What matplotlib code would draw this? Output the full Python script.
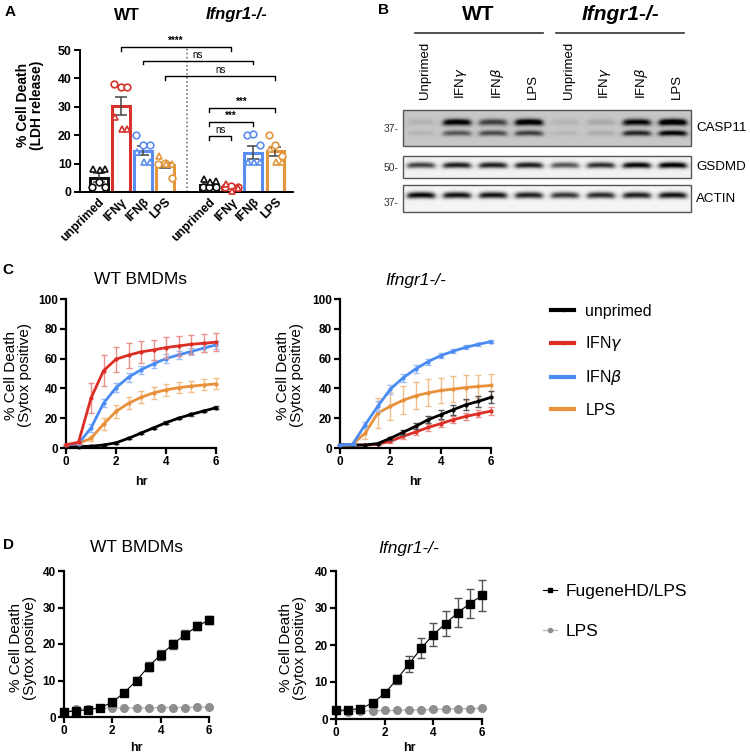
#!/usr/bin/env python3
"""Multi-panel cell death figure: LDH release, western blot, Sytox kinetics"""

import numpy as np
import matplotlib
matplotlib.use('Agg')
import matplotlib.pyplot as plt
from matplotlib.lines import Line2D
from matplotlib.patches import Rectangle

plt.rcParams['font.family'] = ['Liberation Sans', 'DejaVu Sans']
plt.rcParams['mathtext.fontset'] = 'dejavusans'

W, H = 750, 755

# ---- panel A: LDH release ----
a_groups = ['unprimed', 'IFNγ', 'IFNβ', 'LPS']
a_wt_mean = [5.0, 30.2, 14.6, 9.4]
a_wt_sem = [1.6, 3.1, 1.7, 0.9]
a_ko_mean = [2.3, 1.8, 13.9, 14.3]
a_ko_sem = [0.7, 0.4, 2.4, 1.6]
a_wt_circles = [[1.6, 3.4, 1.6], [38.2, 37.0, 37.0], [19.9, 16.5, 16.5], [10.0, 10.2, 4.9]]
a_wt_triangles = [[8.2, 7.6, 8.2], [26.5, 22.2, 22.2], [14.0, 10.7, 10.7], [12.6, 9.8, 9.8]]
a_ko_circles = [[1.6, 1.6, 1.6], [1.8, 2.0, 1.8], [20.0, 20.3, 16.5], [20.2, 16.5, 12.6]]
a_ko_triangles = [[4.7, 3.4, 3.8], [2.8, 0.5, 1.5], [10.7, 10.7, 10.7], [15.0, 10.7, 10.7]]
a_brackets = [(1, 6, 51.0, '****'), (2, 7, 46.3, 'ns'), (3, 8, 40.8, 'ns'),
              (5, 8, 29.6, '***'), (5, 7, 24.6, '***'), (5, 6, 19.6, 'ns')]

# ---- panel B: western blot band intensities (darkness 0-1) ----
b_lanes = ['Unprimed', 'IFN$\\gamma$', 'IFN$\\beta$', 'LPS'] * 2
b_casp11_upper = [0.08, 0.85, 0.55, 0.9, 0.07, 0.12, 0.8, 0.95]
b_casp11_lower = [0.07, 0.45, 0.5, 0.55, 0.06, 0.1, 0.65, 0.8]
b_gsdmd = [0.7, 0.85, 0.85, 0.85, 0.62, 0.78, 0.95, 1.0]
b_actin = [0.95, 0.9, 0.9, 0.85, 0.75, 0.8, 0.85, 0.9]

# ---- panel C: Sytox kinetics, priming ----
hours = [0, 0.5, 1, 1.5, 2, 2.5, 3, 3.5, 4, 4.5, 5, 5.5, 6]
c_labels = ['unprimed', 'IFN$\\gamma$', 'IFN$\\beta$', 'LPS']
c_wt_unprimed = [1.0, 1.0, 1.2, 2.0, 3.5, 6.5, 10.0, 13.5, 17.0, 20.0, 22.5, 24.8, 27.0]
c_wt_ifng = [2.2, 3.8, 33.5, 51.8, 59.6, 62.3, 64.5, 65.8, 67.4, 68.5, 69.6, 70.3, 71.0]
c_wt_ifnb = [2.0, 2.9, 13.5, 30.0, 40.5, 47.5, 52.5, 56.5, 60.0, 62.5, 64.7, 67.0, 69.2]
c_wt_lps = [2.0, 3.0, 6.5, 16.0, 24.5, 30.0, 34.0, 37.0, 39.0, 40.5, 41.5, 42.3, 43.0]
c_wt_unprimed_sem = [0.3, 0.3, 0.3, 0.4, 0.5, 0.6, 0.7, 0.7, 0.8, 0.8, 0.8, 0.8, 0.9]
c_wt_ifng_sem = [0.5, 1.0, 10.0, 10.5, 8.5, 8.3, 7.3, 7.0, 7.0, 6.7, 6.5, 6.2, 6.1]
c_wt_ifnb_sem = [0.3, 0.5, 2.5, 2.8, 3.0, 3.0, 2.8, 2.8, 2.8, 2.7, 2.6, 2.5, 2.5]
c_wt_lps_sem = [0.3, 0.5, 1.5, 4.0, 4.2, 4.0, 4.0, 3.8, 3.8, 3.8, 3.7, 3.7, 3.7]

c_ko_unprimed = [2.0, 2.0, 2.0, 3.0, 6.5, 10.5, 14.5, 19.0, 22.3, 25.7, 29.0, 31.3, 34.0]
c_ko_ifng = [2.0, 2.0, 2.0, 2.5, 4.5, 7.8, 10.7, 13.8, 16.3, 19.0, 21.2, 23.0, 24.8]
c_ko_ifnb = [2.0, 2.5, 15.6, 28.0, 39.5, 47.0, 53.0, 58.0, 62.0, 65.0, 67.6, 69.6, 71.4]
c_ko_lps = [2.0, 2.5, 10.0, 23.4, 28.0, 32.0, 35.0, 37.0, 38.6, 39.5, 40.6, 41.3, 42.0]
c_ko_unprimed_sem = [0.3, 0.3, 0.3, 0.5, 1.0, 1.5, 2.0, 2.5, 3.0, 3.3, 3.6, 3.8, 4.0]
c_ko_ifng_sem = [0.3, 0.3, 0.3, 0.5, 1.0, 1.5, 2.0, 2.2, 2.3, 2.4, 2.5, 2.5, 2.5]
c_ko_ifnb_sem = [0.3, 0.4, 2.0, 3.5, 3.0, 3.0, 2.5, 2.0, 1.8, 1.5, 1.3, 1.0, 0.8]
c_ko_lps_sem = [0.3, 0.4, 4.0, 10.0, 9.5, 9.5, 9.0, 9.0, 8.5, 8.5, 8.5, 8.0, 8.0]

# ---- panel D: Sytox kinetics, transfected LPS ----
d_labels = ['FugeneHD/LPS', 'LPS']
d_wt_fugene = [1.3, 1.7, 2.0, 2.5, 4.1, 6.7, 10.0, 13.8, 17.0, 19.9, 22.5, 24.8, 26.6]
d_wt_fugene_sem = [0.3, 0.3, 0.3, 0.3, 0.4, 0.6, 0.9, 1.2, 1.3, 1.3, 1.2, 1.1, 1.1]
d_wt_lps = [1.5, 2.1, 2.3, 2.4, 2.5, 2.5, 2.5, 2.5, 2.6, 2.6, 2.6, 2.7, 2.7]
d_ko_fugene = [2.3, 2.5, 2.8, 4.3, 6.9, 10.7, 14.9, 19.1, 22.8, 25.8, 28.7, 31.2, 33.4]
d_ko_fugene_sem = [0.3, 0.3, 0.3, 0.4, 0.6, 1.3, 2.1, 2.7, 3.2, 3.5, 3.9, 4.0, 4.3]
d_ko_lps = [2.1, 2.0, 2.2, 2.2, 2.3, 2.3, 2.4, 2.5, 2.6, 2.7, 2.8, 2.8, 2.9]

A_COLORS = ['#111111', '#d7322b', '#5b8def', '#e3963b']
C_COLORS = ['#000000', '#dc2e25', '#4a8cf2', '#e8913a']
C_ECOLORS = ['#555555', '#ec8f8a', '#9dbdf7', '#f2bf8a']
GRAY = '#8e8e8e'


def px_axes(fig, x0, y0, x1, y1):
    return fig.add_axes([x0 / W, 1 - y1 / H, (x1 - x0) / W, (y1 - y0) / H])


def px_text(fig, x, y, s, **kw):
    kw.setdefault('ha', 'center')
    kw.setdefault('va', 'center')
    return fig.text(x / W, 1 - y / H, s, **kw)


def style_axes(ax, lw=1.6, size=8.5):
    for side in ('top', 'right'):
        ax.spines[side].set_visible(False)
    for side in ('left', 'bottom'):
        ax.spines[side].set_linewidth(lw)
    ax.tick_params(width=lw, length=4, labelsize=size, pad=2)
    for lab in ax.get_xticklabels() + ax.get_yticklabels():
        lab.set_fontweight('bold')


def blot_image(x0, x1, y0, y1, bg, bands, lane_x):
    xs = np.linspace(x0, x1, (x1 - x0) * 3)
    ys = np.linspace(y0, y1, (y1 - y0) * 3)
    X, Y = np.meshgrid(xs, ys)
    dark = np.full(X.shape, bg)
    for yc, thick, levels in bands:
        for xc, lvl in zip(lane_x, levels):
            prof_x = 1 / (1 + np.exp((np.abs(X - xc) - 13.5) / 1.6))
            prof_y = np.exp(-((Y - yc - 0.6 * ((X - xc) / 13) ** 2) / thick) ** 2)
            dark = dark + lvl * prof_x * prof_y
    return 1 - np.clip(dark, 0, 1)


fig = plt.figure(figsize=(W / 100, H / 100), dpi=100)

# ================= A =================
ax = px_axes(fig, 80, 50, 293, 192)
ax.set_xlim(-0.85, 8.8)
ax.set_ylim(0, 50)
offs_c = [-0.3, 0.0, 0.3]
offs_t = [-0.25, 0.05, 0.3]
for block, start in ((0, 0), (1, 5)):
    means = a_wt_mean if block == 0 else a_ko_mean
    sems = a_wt_sem if block == 0 else a_ko_sem
    circs = a_wt_circles if block == 0 else a_ko_circles
    tris = a_wt_triangles if block == 0 else a_ko_triangles
    for i in range(4):
        xpos = start + i
        ax.bar(xpos, means[i], width=0.8, facecolor='white', edgecolor=A_COLORS[i],
               linewidth=2.2, zorder=1)
        ax.errorbar(xpos, means[i], yerr=sems[i], color='#444444', capsize=4.5,
                    elinewidth=1.1, capthick=1.1, zorder=3)
        ax.plot([xpos + o for o in offs_c], circs[i], 'o', ms=4.8, mfc='white',
                mec=A_COLORS[i], mew=1.2, zorder=4, clip_on=False)
        ax.plot([xpos + o for o in offs_t], tris[i], '^', ms=4.8, mfc='white',
                mec=A_COLORS[i], mew=1.2, zorder=4, clip_on=False)
ax.plot([4, 4], [0, 51], ls=':', color='#666666', lw=1.1, clip_on=False)
for x1, x2, y, lab in a_brackets:
    ax.plot([x1, x1, x2, x2], [y - 1.3, y, y, y - 1.3], color='black', lw=1,
            clip_on=False)
    ax.text((x1 + x2) / 2, y + 0.3, lab, ha='center', va='bottom', fontsize=7,
            fontweight='bold' if '*' in lab else 'normal')
ax.set_yticks([0, 10, 20, 30, 40, 50])
ax.set_xticks([0, 1, 2, 3, 5, 6, 7, 8])
ax.set_xticklabels(a_groups * 2, rotation=45, ha='right', rotation_mode='anchor')
style_axes(ax, lw=1.4, size=8.8)
ax.tick_params(axis='x', length=0, pad=3)
px_text(fig, 30, 105, '% Cell Death\n(LDH release)', rotation=90, fontsize=10,
        fontweight='bold', linespacing=1.0)
px_text(fig, 127, 15, 'WT', fontsize=12, fontweight='bold')
px_text(fig, 237, 15, 'Ifngr1-/-', fontsize=12, fontweight='bold', style='italic')
px_text(fig, 10, 12, 'A', fontsize=11, fontweight='bold')

# ================= B =================
axb = px_axes(fig, 380, 0, 750, 290)
axb.set_xlim(380, 750)
axb.set_ylim(290, 0)
axb.axis('off')
lane_x = [421 + 36 * i for i in range(8)]
blots = [
    (110, 146, 0.22, [(122, 3.3, b_casp11_upper), (133, 2.8, b_casp11_lower)], 'CASP11', '37-', 129),
    (156, 178, 0.05, [(165, 3.0, b_gsdmd)], 'GSDMD', '50-', 168),
    (185, 212, 0.04, [(195, 3.2, b_actin)], 'ACTIN', '37-', 203),
]
for y0, y1, bg, bands, name, mw, mw_y in blots:
    img = blot_image(403, 691, y0, y1, bg, bands, lane_x)
    axb.imshow(img, cmap='gray', vmin=0, vmax=1, extent=(403, 691, y1, y0),
               aspect='auto', interpolation='bilinear')
    axb.add_patch(Rectangle((403, y0), 288, y1 - y0, fill=False, ec='#555555', lw=1))
    axb.text(696, (y0 + y1) / 2, name, ha='left', va='center', fontsize=9.6)
    axb.text(399, mw_y, mw, ha='right', va='center', fontsize=7.5, color='#333333')
for xc, lab in zip(lane_x, b_lanes):
    axb.text(xc + 4, 99, lab, rotation=90, ha='center', va='bottom', fontsize=9.5)
axb.plot([415, 543], [33, 33], color='#333333', lw=1.2)
axb.plot([556, 684], [33, 33], color='#333333', lw=1.2)
px_text(fig, 478, 15, 'WT', fontsize=15, fontweight='bold')
px_text(fig, 620, 15, 'Ifngr1-/-', fontsize=15, fontweight='bold', style='italic')
px_text(fig, 383, 10, 'B', fontsize=11, fontweight='bold')

# ================= C =================
c_sets = [
    ((66, 299, 216, 448), 'WT BMDMs', 'normal',
     [c_wt_unprimed, c_wt_ifng, c_wt_ifnb, c_wt_lps],
     [c_wt_unprimed_sem, c_wt_ifng_sem, c_wt_ifnb_sem, c_wt_lps_sem], [1, 4, 3, 2], 18),
    ((340, 299, 491, 448), 'Ifngr1-/-', 'italic',
     [c_ko_unprimed, c_ko_ifng, c_ko_ifnb, c_ko_lps],
     [c_ko_unprimed_sem, c_ko_ifng_sem, c_ko_ifnb_sem, c_ko_lps_sem], [3, 2, 4, 1], 290),
]
for box, title, tstyle, series, sems, zords, ylx in c_sets:
    ax = px_axes(fig, *box)
    for vals, err, col, ecol, z in zip(series, sems, C_COLORS, C_ECOLORS, zords):
        ax.errorbar(hours, vals, yerr=err, color=col, lw=2, marker='o', ms=2,
                    ecolor=ecol, elinewidth=1, capsize=2.5, capthick=1,
                    zorder=z, clip_on=False)
    ax.set_xlim(0, 6)
    ax.set_ylim(0, 100)
    ax.set_xticks([0, 2, 4, 6])
    ax.set_yticks([0, 20, 40, 60, 80, 100])
    style_axes(ax)
    cx = (box[0] + box[2]) / 2
    px_text(fig, cx, 280, title, fontsize=12.5, style=tstyle)
    px_text(fig, cx, 482, 'hr', fontsize=9, fontweight='bold')
    px_text(fig, ylx, 375, '% Cell Death\n(Sytox positive)', rotation=90,
            fontsize=11, linespacing=1.0)
px_text(fig, 8, 270, 'C', fontsize=11, fontweight='bold')
c_handles = [Line2D([], [], color=c, lw=3, marker='o', ms=1.5) for c in C_COLORS]
fig.legend(c_handles, c_labels, loc='upper left', bbox_to_anchor=(551 / W, 1 - 304 / H),
           frameon=False, fontsize=11.5, handlelength=1.45, handletextpad=0.7,
           labelspacing=0.95, borderpad=0, borderaxespad=0)

# ================= D =================
d_sets = [
    ((64, 571, 209, 717), 'WT BMDMs', 'normal', d_wt_fugene, d_wt_fugene_sem, d_wt_lps, 23),
    ((336, 571, 482, 719), 'Ifngr1-/-', 'italic', d_ko_fugene, d_ko_fugene_sem, d_ko_lps, 293),
]
for box, title, tstyle, fug, fug_err, lps, ylx in d_sets:
    ax = px_axes(fig, *box)
    ax.plot(hours, lps, color='#bdbdbd', lw=1, marker='o', ms=5.5, mfc=GRAY,
            mec=GRAY, zorder=2, clip_on=False)
    ax.errorbar(hours, fug, yerr=fug_err, color='black', lw=0.8, marker='s', ms=5.5,
                ecolor='#555555', elinewidth=1, capsize=3, capthick=1, zorder=3,
                clip_on=False)
    ax.set_xlim(0, 6)
    ax.set_ylim(0, 40)
    ax.set_xticks([0, 2, 4, 6])
    ax.set_yticks([0, 10, 20, 30, 40])
    style_axes(ax)
    cx = (box[0] + box[2]) / 2
    px_text(fig, cx, 548, title, fontsize=12.5, style=tstyle)
    px_text(fig, cx, 748, 'hr', fontsize=9, fontweight='bold')
    px_text(fig, ylx, 648, '% Cell Death\n(Sytox positive)', rotation=90,
            fontsize=11, linespacing=1.0)
px_text(fig, 8, 545, 'D', fontsize=11, fontweight='bold')
d_handles = [Line2D([], [], color='black', lw=0.8, marker='s', ms=3),
             Line2D([], [], color='#bdbdbd', lw=1, marker='o', ms=3, mfc=GRAY, mec=GRAY)]
fig.legend(d_handles, d_labels, loc='upper left', bbox_to_anchor=(543 / W, 1 - 584 / H),
           frameon=False, fontsize=12.5, handlelength=0.8, handletextpad=0.5,
           labelspacing=1.45, borderpad=0, borderaxespad=0)

fig.savefig('out.png', dpi=100)
